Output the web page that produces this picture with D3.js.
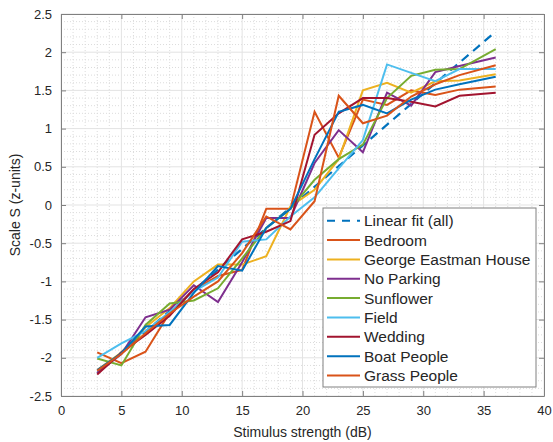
<!DOCTYPE html>
<html>
<head>
<meta charset="utf-8">
<script src="https://cdn.jsdelivr.net/npm/d3@7"></script>
<style>
  body { margin: 0; background: #fff; }
  text { font-family: "Liberation Sans", Arial, Helvetica, sans-serif; fill: #262626; }
</style>
</head>
<body>
<div id="chart"></div>
<script>
// data

var xs = [3, 5, 7, 9, 11, 13, 15, 17, 19, 21, 23, 25, 27, 29, 31, 33, 36];

var fitLine = [[3, -2.2], [36, 2.27]];

var bedroom      = [-1.93, -2.07, -1.92, -1.41, -1.11, -0.93, -0.85, -0.05, -0.05, 1.22, 0.62, 1.38, 1.31, 1.50, 1.44, 1.51, 1.55];
var eastman      = [-2.16, -1.93, -1.60, -1.35, -1.00, -0.78, -0.78, -0.67, -0.02, 0.20, 0.60, 1.50, 1.60, 1.47, 1.62, 1.63, 1.71];
var noParking    = [-2.20, -1.95, -1.47, -1.37, -1.05, -1.27, -0.75, -0.17, -0.17, 0.55, 0.98, 0.69, 1.47, 1.30, 1.74, 1.82, 1.93];
var sunflower    = [-2.01, -2.10, -1.57, -1.29, -1.25, -1.09, -0.70, -0.30, -0.05, 0.33, 0.60, 0.79, 1.40, 1.69, 1.77, 1.78, 2.04];
var field        = [-2.00, -1.81, -1.65, -1.40, -1.13, -0.95, -0.48, -0.45, -0.15, 0.10, 0.48, 0.85, 1.84, 1.73, 1.62, 1.78, 1.78];
var wedding      = [-2.22, -1.93, -1.70, -1.45, -1.10, -0.88, -0.45, -0.35, -0.21, 0.92, 1.20, 1.40, 1.40, 1.35, 1.29, 1.43, 1.47];
var boatPeople   = [-2.16, -1.94, -1.59, -1.57, -1.15, -0.80, -0.86, -0.30, -0.05, 0.60, 1.22, 1.31, 1.20, 1.38, 1.51, 1.58, 1.68];
var grassPeople  = [-2.17, -1.95, -1.68, -1.42, -1.20, -1.00, -0.63, -0.15, -0.32, 0.05, 1.43, 1.07, 1.17, 1.42, 1.58, 1.70, 1.83];

var names = ["Linear fit (all)", "Bedroom", "George Eastman House", "No Parking", "Sunflower",
             "Field", "Wedding", "Boat People", "Grass People"];
var seriesValues = [bedroom, eastman, noParking, sunflower, field, wedding, boatPeople, grassPeople];

var xTicks = [0, 5, 10, 15, 20, 25, 30, 35, 40];
var yTicks = [-2.5, -2, -1.5, -1, -0.5, 0, 0.5, 1, 1.5, 2, 2.5];

// matlab default order
var colors = ["#0072BD", "#D95319", "#EDB120", "#7E2F8E", "#77AC30", "#4DBEEE", "#A2142F"];

var W = 553, H = 442;
var margin = {top: 14, right: 9, bottom: 46, left: 61};
var width = W - margin.left - margin.right,
    height = H - margin.top - margin.bottom;

var svg = d3.select("#chart").append("svg")
    .attr("width", W)
    .attr("height", H);

var g = svg.append("g")
    .attr("transform", "translate(" + margin.left + "," + margin.top + ")");

var x = d3.scaleLinear().domain([0, 40]).range([0, width]);
var y = d3.scaleLinear().domain([-2.5, 2.5]).range([height, 0]);

// minor grid (dotted)
g.append("g").selectAll("line")
    .data(d3.range(1, 40).filter(d => d % 5 != 0))
    .join("line")
    .attr("x1", d => x(d)).attr("x2", d => x(d))
    .attr("y1", 0).attr("y2", height)
    .attr("stroke", "#dcdcdc").attr("stroke-width", 1)
    .attr("stroke-dasharray", "1,2");

g.append("g").selectAll("line")
    .data(d3.range(-24, 25).filter(d => d % 5 != 0).map(d => d / 10))
    .join("line")
    .attr("x1", 0).attr("x2", width)
    .attr("y1", d => y(d)).attr("y2", d => y(d))
    .attr("stroke", "#dcdcdc").attr("stroke-width", 1)
    .attr("stroke-dasharray", "1,2");

// major grid
g.append("g").selectAll("line")
    .data(xTicks)
    .join("line")
    .attr("x1", d => x(d)).attr("x2", d => x(d))
    .attr("y1", 0).attr("y2", height)
    .attr("stroke", "#e3e3e3");

g.append("g").selectAll("line")
    .data(yTicks)
    .join("line")
    .attr("x1", 0).attr("x2", width)
    .attr("y1", d => y(d)).attr("y2", d => y(d))
    .attr("stroke", "#e3e3e3");

// axes, ticks pointing inward like matlab
var xAxis = g.append("g")
    .attr("transform", "translate(0," + height + ")")
    .call(d3.axisBottom(x).tickValues(xTicks).tickSizeInner(-5).tickSizeOuter(0).tickPadding(10).tickFormat(d3.format("d")));

var xAxisTop = g.append("g")
    .call(d3.axisTop(x).tickValues(xTicks).tickSizeInner(-5).tickSizeOuter(0).tickFormat(""));

var yAxis = g.append("g")
    .call(d3.axisLeft(y).tickValues(yTicks).tickSizeInner(-5).tickSizeOuter(0).tickPadding(9)
        .tickFormat(d => String(d)));

var yAxisRight = g.append("g")
    .attr("transform", "translate(" + width + ",0)")
    .call(d3.axisRight(y).tickValues(yTicks).tickSizeInner(-5).tickSizeOuter(0).tickFormat(""));

[xAxis, xAxisTop, yAxis, yAxisRight].forEach(function(a){
    a.select(".domain").attr("stroke", "#808080");
    a.selectAll(".tick line").attr("stroke", "#808080");
    a.selectAll(".tick text").attr("font-size", 13).attr("fill", "#262626")
        .style("font-family", "'Liberation Sans', Arial, Helvetica, sans-serif");
});

// lines
var line = d3.line()
    .x(d => x(d[0]))
    .y(d => y(d[1]));

g.append("path")
    .datum(fitLine)
    .attr("d", line)
    .attr("fill", "none")
    .attr("stroke", colors[0])
    .attr("stroke-width", 2.2)
    .attr("stroke-dasharray", "9,6");

seriesValues.forEach(function(vals, i){
    g.append("path")
        .datum(xs.map((xv, j) => [xv, vals[j]]))
        .attr("d", line)
        .attr("fill", "none")
        .attr("stroke", colors[(i + 1) % 7])
        .attr("stroke-width", 2)
        .attr("stroke-linejoin", "miter");
});

// axis labels
svg.append("text")
    .attr("text-anchor", "middle")
    .attr("x", margin.left + width / 2)
    .attr("y", 437)
    .attr("font-size", 14)
    .text("Stimulus strength (dB)");

svg.append("text")
    .attr("text-anchor", "middle")
    .attr("transform", "translate(20," + (margin.top + height / 2) + ") rotate(-90)")
    .attr("font-size", 14)
    .text("Scale S (z-units)");

// legend
var legend = svg.append("g")
    .attr("transform", "translate(323,208)");

legend.append("rect")
    .attr("width", 213)
    .attr("height", 179)
    .attr("fill", "#fff")
    .attr("stroke", "#808080");

names.forEach(function(name, i){
    var ly = 12.7 + i * 19.35;
    legend.append("line")
        .attr("x1", 4).attr("x2", 37)
        .attr("y1", ly).attr("y2", ly)
        .attr("stroke", colors[i % 7])
        .attr("stroke-width", 2)
        .attr("stroke-dasharray", i == 0 ? "8,7" : null);
    legend.append("text")
        .attr("x", 41)
        .attr("y", ly + 5.5)
        .attr("font-size", 15.5)
        .text(name);
});
</script>
</body>
</html>
